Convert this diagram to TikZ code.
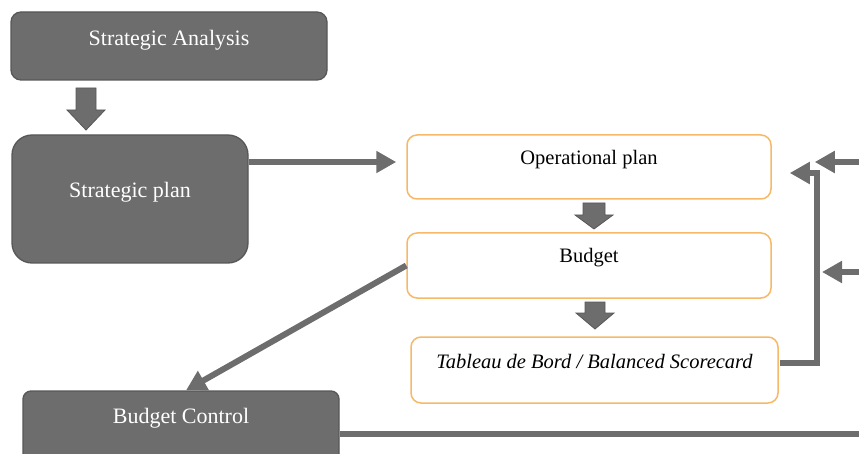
\documentclass[tikz,border=0pt]{standalone}
\usepackage{fontspec}
\setmainfont{Liberation Serif}
\usetikzlibrary{arrows.meta,calc}
\definecolor{dk}{HTML}{6D6D6D}
\definecolor{dkb}{HTML}{575757}
\definecolor{org}{HTML}{F6B968}
\begin{document}
\begin{tikzpicture}[x=1pt,y=-1pt,
  darkbox/.style={draw=dkb,line width=1.3pt,fill=dk,rounded corners=10pt,inner sep=0pt},
  litebox/.style={draw=org,line width=1.5pt,fill=white,rounded corners=10pt,inner sep=0pt},
  wtxt/.style={text=white,font=\fontsize{22}{26}\selectfont},
  btxt/.style={text=black,font=\fontsize{20.5}{24}\selectfont},
  conn/.style={draw=dk,line width=6pt,-{Triangle[length=20pt,width=21pt]}},
  blk/.style={fill=dk,draw=dkb,line width=0.8pt}
]
\useasboundingbox (0,0) rectangle (859,454);
\clip (0,0) rectangle (859,454);
% boxes
\node[darkbox,minimum width=316pt,minimum height=68pt,
  label={[wtxt,yshift=6pt]center:Strategic Analysis}] (sa) at (169,46) {};
\node[darkbox,rounded corners=20pt,minimum width=236pt,minimum height=128pt,
  label={[wtxt,yshift=7pt]center:Strategic plan}] (sp) at (130,199) {};
\node[litebox,minimum width=364pt,minimum height=64pt,
  label={[btxt,yshift=7pt]center:Operational plan}] (op) at (589,167) {};
\node[litebox,minimum width=364pt,minimum height=65pt,
  label={[btxt,yshift=8pt]center:Budget}] (bu) at (589,265.5) {};
\node[litebox,minimum width=367pt,minimum height=66pt,
  label={[btxt,yshift=8pt]center:\textit{Tableau de Bord / Balanced Scorecard}}] (tb) at (594.5,370) {};
\node[darkbox,rounded corners=8pt,minimum width=316pt,minimum height=80pt,
  label={[wtxt,yshift=13pt]center:Budget Control}] (bc) at (181,431) {};
% block arrows
\newcommand\blockarr[6]{% x, ytop, ybase, ytip, shaft half, head half
  \filldraw[blk] (#1-#5,#2) -- (#1+#5,#2) -- (#1+#5,#3) -- (#1+#6,#3) -- (#1,#4)
    -- (#1-#6,#3) -- (#1-#5,#3) -- cycle;}
\blockarr{86}{88}{110}{130}{10}{19}
\blockarr{594}{203}{215}{229}{11}{19}
\blockarr{595}{302}{313}{329}{10}{19}
% free ends
\coordinate (in1) at (859,162);
\coordinate (in2) at (859,272);
\coordinate (out) at (859,434);
\coordinate (corner) at (817,173);
% connectors
\draw[conn,shorten >=10pt] ($(sp.east |- op.west)+(0,-5)$) -- ($(op.west)+(0,-5)$);
\draw[conn] (bu.west) -- ($(bc.north)+(5,0)$);
\draw[conn,-{Triangle[length=20pt,width=21pt]}]
  ($(tb.east)+(1,-7)$) -| (corner) -- ($(op.east)+(18,6)$);
\draw[conn] (in1) -- ($(op.east)+(43,-5)$);
\draw[conn,shorten >=5pt] (in2) -- (corner |- in2);
\draw[draw=dk,line width=6pt] (bc.east |- out) -- (out);
\end{tikzpicture}
\end{document}
